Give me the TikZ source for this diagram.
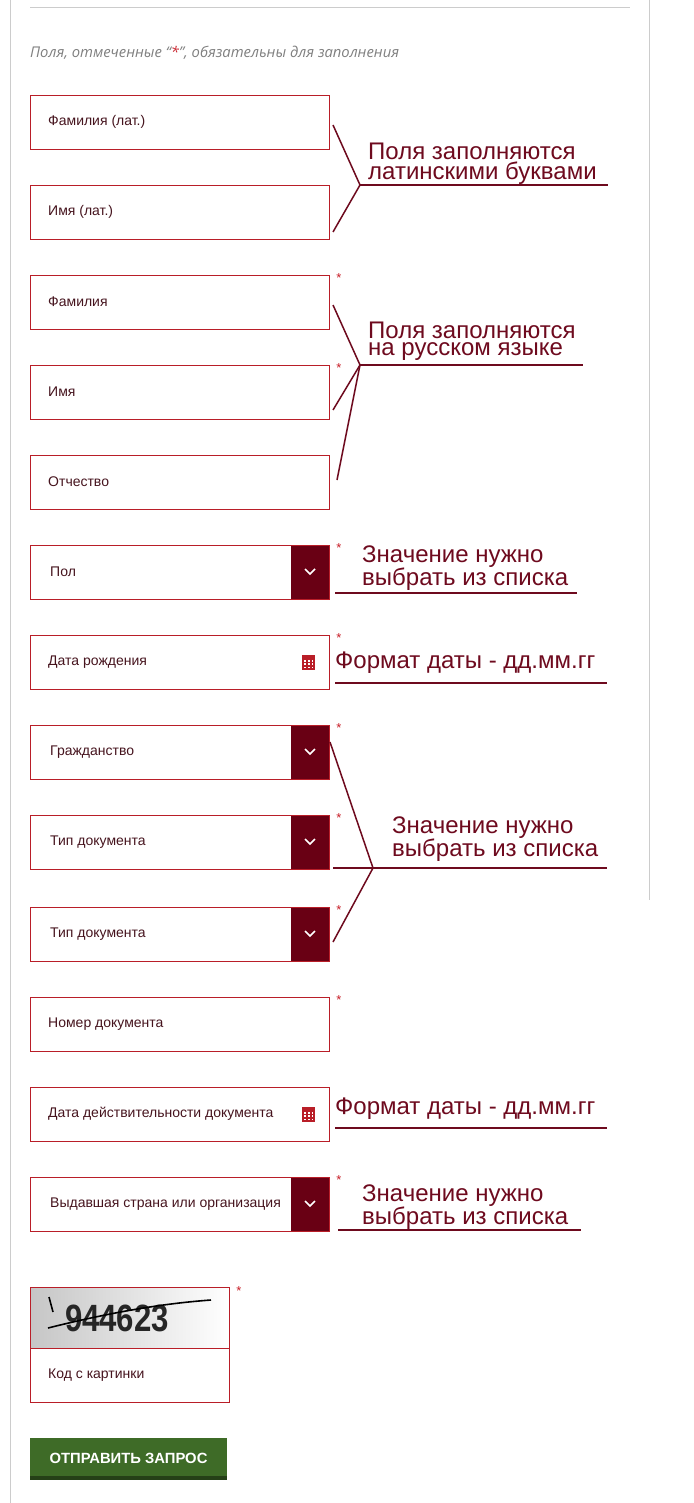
\documentclass[tikz,border=0pt]{standalone}
\usepackage{fontspec}
\setmainfont{Liberation Sans}
\newfontfamily\opn{Open Sans}
\begin{document}
\begin{tikzpicture}[x=1pt,y=-1pt,
  fbox/.style={draw=boxred,line width=0.8pt},
  flabel/.style={anchor=west,font=\fontsize{14}{14}\selectfont,text=labtxt,inner sep=0},
  ann/.style={anchor=west,font=\fontsize{24}{24}\selectfont,text=ann,inner sep=0},
  aline/.style={draw=ann,line width=1.5pt},
  ast/.style={text=astred,font=\fontsize{13}{13}\selectfont,inner sep=0}]
\definecolor{boxred}{RGB}{185,30,40}
\definecolor{labtxt}{RGB}{70,20,30}
\definecolor{ann}{RGB}{110,10,30}
\definecolor{astred}{RGB}{200,30,40}
\definecolor{ddfill}{RGB}{105,0,20}
\definecolor{btn}{RGB}{62,107,39}
\useasboundingbox (0,0) rectangle (693,1503);
\fill[white] (0,0) rectangle (693,1503);
\draw[gray!40,line width=1pt] (10,0) -- (10,1503);
\draw[gray!40,line width=1pt] (649,0) -- (649,900);
\draw[gray!40,line width=1pt] (30,8) -- (630,8);
\node[anchor=west,inner sep=0,text=gray,font=\opn\itshape\fontsize{14.8}{14.8}\selectfont] (hint) at (30,53) {Поля, отмеченные “{\color{astred}*}”, обязательны для заполнения};
% text fields
\foreach \n/\y/\t in {f1/95/Фамилия (лат.),f2/185/Имя (лат.),f3/275/Фамилия,f4/365/Имя,f5/455/Отчество,f10/997/Номер документа}{
  \draw[fbox] (30,\y) rectangle (329,\y+54);
  \node[flabel] (\n) at (48,\y+27) {\t};
}
% date fields
\foreach \n/\y/\t in {d1/635/Дата рождения,d2/1087/Дата действительности документа}{
  \draw[fbox] (30,\y) rectangle (329,\y+54);
  \node[flabel] (\n) at (48,\y+27) {\t};
  \fill[white] (297,\y+5) rectangle (328,\y+49);
  \fill[boxred] (302,\y+20) rectangle (315,\y+35);
  \foreach \i in {0,1,2}{\foreach \j in {0,1,2}{\fill[white] (304+\i*3.8,\y+25+\j*3.3) rectangle +(1.8,1.8);}}
}
% dropdowns
\foreach \n/\y/\t in {s1/545/Пол,s2/725/Гражданство,s3/815/Тип документа,s4/907/Тип документа,s5/1177/Выдавшая страна или организация}{
  \begin{scope}
  \clip (30,\y) rectangle (291,\y+54);
  \node[flabel] (\n) at (50,\y+27) {\t};
  \end{scope}
  \fill[ddfill] (291,\y) rectangle (329,\y+54);
  \draw[fbox] (30,\y) rectangle (329,\y+54);
  \draw[white,line width=1.5pt] (305,\y+24) -- (310,\y+29) -- (315,\y+24);
}
% asterisks
\foreach \y in {278,368,548,638,728,818,910,1000,1180}{\node[ast] at (339,\y) {*};}
\node[ast] at (239,1291) {*};
% captcha
\shade[left color=gray!45,right color=white] (30,1287) rectangle (229,1348);
\node[inner sep=0,font=\bfseries\fontsize{38}{38}\selectfont,text=black!85,xscale=0.82] (cap) at (117,1318) {944623};
\draw[black,line width=1.6pt] (48,1328) .. controls (120,1310) and (170,1303) .. (211,1300);
\draw[black,line width=1.6pt] (49,1297) -- (53,1312);
\draw[fbox] (30,1287) rectangle (229,1402);
\draw[boxred,line width=0.8pt] (30,1348) -- (229,1348);
\node[flabel] (code) at (48,1375) {Код с картинки};
% button
\fill[btn!60!black] (30,1438) rectangle (227,1480);
\fill[btn] (30,1438) rectangle (227,1476);
\node[inner sep=0,text=white,font=\bfseries\fontsize{14.8}{14.8}\selectfont] (send) at (128.5,1458) {ОТПРАВИТЬ ЗАПРОС};
% annotation 1
\coordinate (a1) at (360,185); \coordinate (a1e) at (608,185);
\coordinate (a1u) at (333,125); \coordinate (a1d) at (333,232);
\draw[aline] (a1u) -- (a1) -- (a1d); \draw[aline] (a1) -- (a1e);
\node[ann] (t1a) at (368,151) {Поля заполняются};
\node[ann] (t1b) at (368,173) {латинскими буквами};
% annotation 2
\coordinate (a2) at (360,365); \coordinate (a2e) at (583,365);
\coordinate (a2u) at (333,305); \coordinate (a2m) at (333,410); \coordinate (a2d) at (337,480);
\draw[aline] (a2u) -- (a2) -- (a2m); \draw[aline] (a2) -- (a2d); \draw[aline] (a2) -- (a2e);
\node[ann] (t2a) at (368,330) {Поля заполняются};
\node[ann] (t2b) at (368,352) {на русском языке};
% annotation 3
\coordinate (a3s) at (335,593); \coordinate (a3e) at (577,593);
\draw[aline] (a3s) -- (a3e);
\node[ann] (t3a) at (362,557) {Значение нужно};
\node[ann] (t3b) at (362,579) {выбрать из списка};
% annotation 4
\coordinate (a4s) at (335,683); \coordinate (a4e) at (607,683);
\draw[aline] (a4s) -- (a4e);
\node[ann] (t4) at (335,663) {Формат даты - дд.мм.гг};
% annotation 5
\coordinate (a5) at (373,868); \coordinate (a5e) at (607,868);
\coordinate (a5u) at (330,742); \coordinate (a5m) at (333,868); \coordinate (a5d) at (333,942);
\draw[aline] (a5u) -- (a5) -- (a5d); \draw[aline] (a5m) -- (a5e);
\node[ann] (t5a) at (392,828) {Значение нужно};
\node[ann] (t5b) at (392,850) {выбрать из списка};
% annotation 6
\coordinate (a6s) at (335,1128); \coordinate (a6e) at (607,1128);
\draw[aline] (a6s) -- (a6e);
\node[ann] (t6) at (335,1109) {Формат даты - дд.мм.гг};
% annotation 7
\coordinate (a7s) at (338,1230); \coordinate (a7e) at (581,1230);
\draw[aline] (a7s) -- (a7e);
\node[ann] (t7a) at (362,1196) {Значение нужно};
\node[ann] (t7b) at (362,1218) {выбрать из списка};
\end{tikzpicture}
\end{document}
